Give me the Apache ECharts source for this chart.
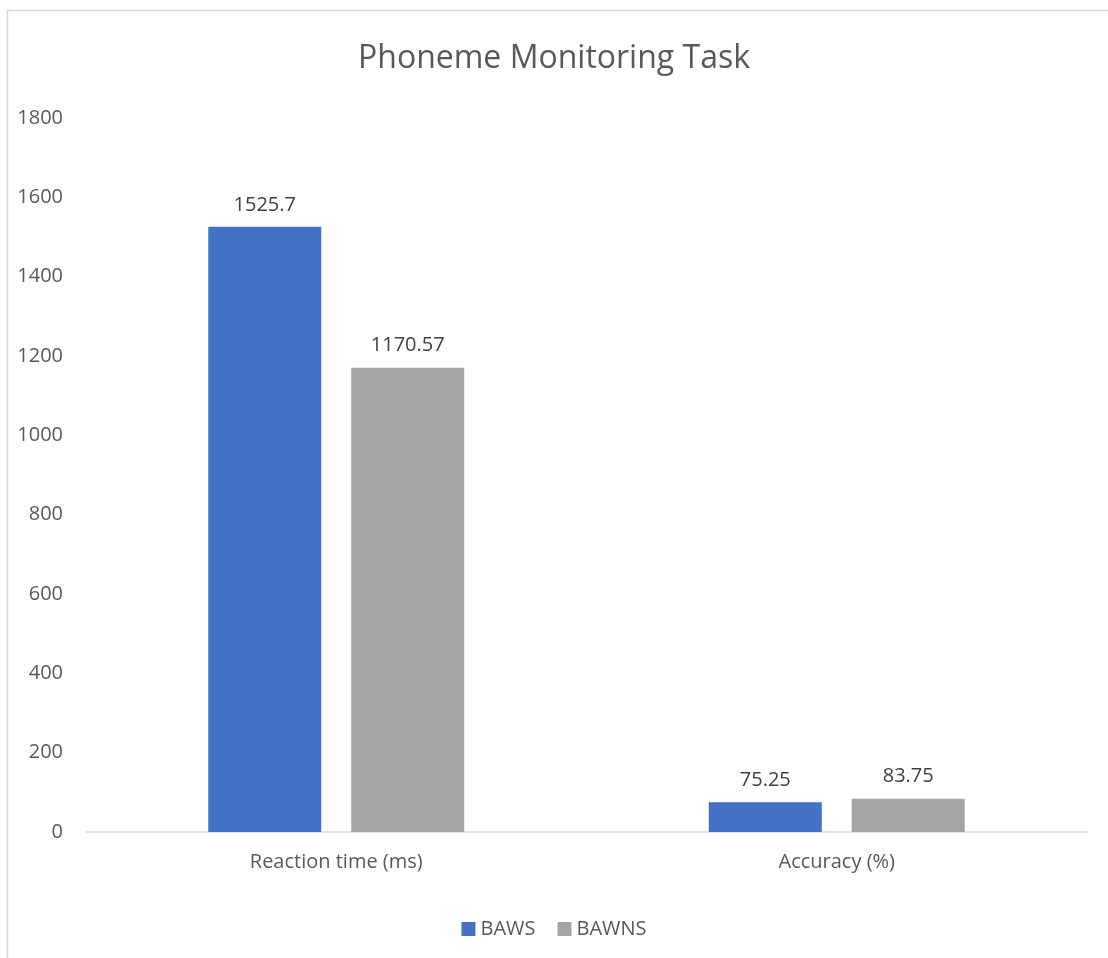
<!DOCTYPE html>
<html>
<head>
<meta charset="utf-8">
<style>
  html, body { margin: 0; padding: 0; background: #fff; }
  #chart { width: 1108px; height: 958px; }
</style>
<script src="https://cdn.jsdelivr.net/npm/echarts@6/dist/echarts.min.js"></script>
</head>
<body>
<div id="chart"></div>
<script>
// data
var categories = ["Reaction time (ms)", "Accuracy (%)"];
var seriesNames = ["BAWS", "BAWNS"];
var baws = [1525.7, 75.25];
var bawns = [1170.57, 83.75];
var colors = ["#4472C4", "#A5A5A5"];

var font = "'Open Sans', 'Liberation Sans', sans-serif";
var chart = echarts.init(document.getElementById("chart"));

var option = {
  animation: false,
  color: colors,
  title: {
    text: "Phoneme Monitoring Task",
    left: "center",
    top: 38,
    textStyle: { fontFamily: font, fontSize: 32, fontWeight: "normal", color: "#595959" }
  },
  legend: {
    data: seriesNames,
    bottom: 14,
    left: "center",
    icon: "rect",
    itemWidth: 14,
    itemHeight: 14,
    itemGap: 22,
    textStyle: { fontFamily: font, fontSize: 20, color: "#595959" }
  },
  grid: { left: 86, right: 21, top: 118, bottom: 126 },
  xAxis: {
    type: "category",
    data: categories,
    axisLine: { lineStyle: { color: "#D9D9D9", width: 1.5 } },
    axisTick: { show: false },
    axisLabel: { fontFamily: font, fontSize: 20, color: "#595959", margin: 20 }
  },
  yAxis: {
    type: "value",
    min: 0,
    max: 1800,
    interval: 200,
    splitLine: { show: false },
    axisLine: { show: false },
    axisTick: { show: false },
    axisLabel: {
      fontFamily: font, fontSize: 20, color: "#595959", margin: 23,
      formatter: function (v) { return String(v); }
    }
  },
  series: [
    {
      name: seriesNames[0],
      type: "bar",
      data: baws,
      barWidth: 113,
      barGap: "26.5%",
      label: { show: true, position: "top", distance: 12, fontFamily: font, fontSize: 20, color: "#404040" }
    },
    {
      name: seriesNames[1],
      type: "bar",
      data: bawns,
      barWidth: 113,
      label: { show: true, position: "top", distance: 12, fontFamily: font, fontSize: 20, color: "#404040" }
    }
  ],
  graphic: [
    {
      type: "rect",
      shape: { x: 7.5, y: 10.5, width: 1110, height: 960 },
      style: { fill: "none", stroke: "#D9D9D9", lineWidth: 1.5 },
      silent: true
    }
  ]
};

chart.setOption(option);
</script>
</body>
</html>
